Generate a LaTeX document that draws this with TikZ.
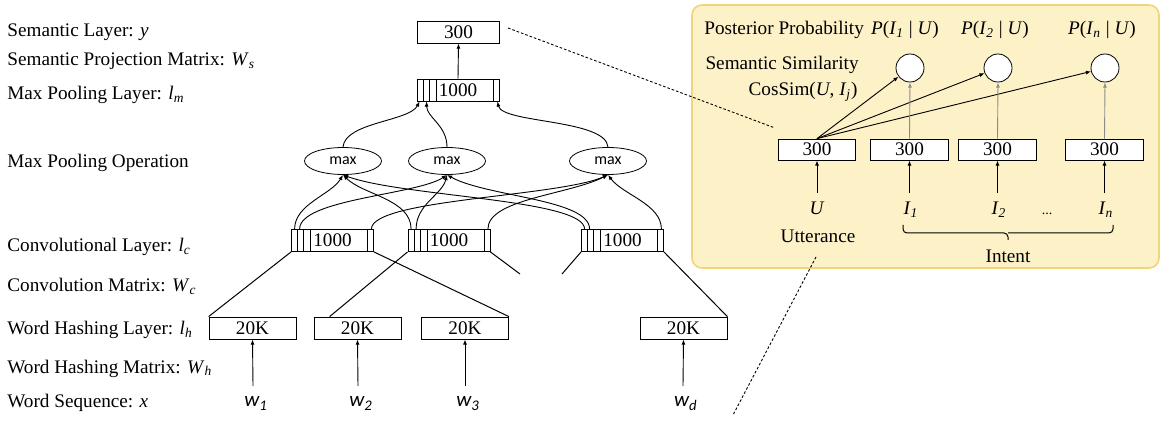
\documentclass[tikz,border=0pt]{standalone}
\usepackage{fontspec}
\setmainfont{Liberation Serif}
\newfontfamily\calfont{Carlito}
\usetikzlibrary{arrows.meta,shapes.geometric}
\definecolor{panelfill}{HTML}{FDF1C8}
\definecolor{paneldraw}{HTML}{F2D47C}
\newcommand\fs{\fontsize{9.6}{11}\selectfont}
\newcommand\vi[2]{\textit{#1}\textsubscript{\textit{#2}}}
\begin{document}
\begin{tikzpicture}[x=0.5pt,y=-0.5pt,
  lbl/.style={anchor=base west, inner sep=0pt, font=\fs},
  txt/.style={anchor=base, inner sep=0pt, font=\fs},
  box/.style={draw, fill=white, inner sep=0pt, minimum width=41pt, minimum height=11pt, font=\fs},
  hbox/.style={box, minimum width=43.5pt},
  pbox/.style={box, minimum width=38.75pt, minimum height=10.5pt},
  stripebox/.style={box, path picture={
      \foreach \d in {3pt,6pt,9.5pt}
        \draw ([xshift=\d]path picture bounding box.south west) -- ([xshift=\d]path picture bounding box.north west);
      \draw ([xshift=-3pt]path picture bounding box.south east) -- ([xshift=-3pt]path picture bounding box.north east);}},
  maxop/.style={draw, ellipse, inner sep=0pt, minimum width=38.5pt, minimum height=13.5pt, font=\calfont\fontsize{8}{9}\selectfont},
  circ/.style={draw, circle, fill=white, inner sep=0pt, minimum size=14pt},
  wl/.style={anchor=base, inner sep=0pt, font=\calfont\itshape\fontsize{10.5}{12}\selectfont},
  arr/.style={-{Latex[length=2.6pt,width=2pt]}, line width=0.45pt},
  con/.style={line width=0.5pt},
  gar/.style={arr, draw=black!45},
  dsh/.style={dash pattern=on 1.3pt off 1pt, line width=0.45pt},
  panel/.style={draw=paneldraw, fill=panelfill, line width=0.8pt, rounded corners=5pt, minimum width=233.5pt, minimum height=131.5pt, inner sep=0pt}
]
\useasboundingbox (0,0) rectangle (1168,422);

% ---- left labels
\node[lbl] (l1) at (7,37) {Semantic Layer: \textit{y}};
\node[lbl] (l2) at (7,66) {Semantic Projection Matrix: \vi{W}{s}};
\node[lbl] (l3) at (7,100) {Max Pooling Layer: \vi{l}{m}};
\node[lbl] (l4) at (7,168) {Max Pooling Operation};
\node[lbl] (l5) at (7,252) {Convolutional Layer: \vi{l}{c}};
\node[lbl] (l6) at (7,292) {Convolution Matrix: \vi{W}{c}};
\node[lbl] (l7) at (7,335) {Word Hashing Layer: \vi{l}{h}};
\node[lbl] (l8) at (7,373) {Word Hashing Matrix: \vi{W}{h}};
\node[lbl] (l9) at (7,408) {Word Sequence: \textit{x}};

% ---- right panel background
\node[panel] (panel) at (925.5,136.5) {};

% ---- left network
\node[box] (sem) at (458.5,32) {300};
\node[stripebox] (mp) at (458,90) {1000};
\node[maxop] (e1) at (343,161) {max};
\node[maxop] (e2) at (447,161) {max};
\node[maxop] (e3) at (608,161) {max};
\node[stripebox] (c1) at (332.5,240.5) {1000};
\node[stripebox] (c2) at (449,240.5) {1000};
\node[stripebox] (c3) at (622.5,240.5) {1000};
\node[hbox] (h1) at (252.5,328) {20K};
\node[hbox] (h2) at (357.5,328) {20K};
\node[hbox] (h3) at (465,328) {20K};
\node[hbox] (h4) at (683.5,328) {20K};
\node[wl] (w1) at (256,407) {w\textsubscript{1}};
\node[wl] (w2) at (361,407) {w\textsubscript{2}};
\node[wl] (w3) at (468,407) {w\textsubscript{3}};
\node[wl] (wd) at (686,407) {w\textsubscript{d}};
\coordinate (s1) at (253,386);
\coordinate (s2) at (358,386);
\coordinate (s3) at (465,386);
\coordinate (sd) at (683,386);

\draw[arr] (mp.north) -- (sem.south);

% max -> max pooling layer
\draw[arr] (e1.north) .. controls +(2,-25) and +(-10,20) .. ([xshift=1.5pt]mp.south west);
\draw[arr] (e2.north) .. controls +(0,-22) and +(0,16) .. ([xshift=5pt]mp.south west);
\draw[arr] (e3.north) .. controls +(-2,-28) and +(5,22) .. ([xshift=-1pt]mp.south east);

% conv -> max
\draw[arr] ([xshift=1.75pt]c1.north west) .. controls +(0,-25) and +(-12,20) .. (e1.south);
\draw[arr] ([xshift=4.25pt]c1.north west) .. controls +(0,-30) and +(-30,20) .. (e2.south);
\draw[arr] ([xshift=-1.25pt]c1.north east) .. controls +(0,-30) and +(-50,22) .. (e3.south);
\draw[arr] ([xshift=1.75pt]c2.north west) .. controls +(0,-30) and +(20,20) .. (e1.south);
\draw[arr] ([xshift=4.25pt]c2.north west) .. controls +(0,-25) and +(-5,20) .. (e2.south);
\draw[arr] ([xshift=-1.25pt]c2.north east) .. controls +(0,-30) and +(-40,20) .. (e3.south);
\draw[arr] ([xshift=1.75pt]c3.north west) .. controls +(0,-30) and +(60,22) .. (e1.south);
\draw[arr] ([xshift=4.25pt]c3.north west) .. controls +(0,-30) and +(40,22) .. (e2.south);
\draw[arr] ([xshift=-1.25pt]c3.north east) .. controls +(0,-25) and +(15,20) .. (e3.south);

% conv -> word hashing
\coordinate (g1) at (520,274);
\coordinate (g2) at (562,274);
\draw[con] (c1.south west) -- (h1.north west);
\draw[con] (c1.south east) -- (h3.north east);
\draw[con] (c2.south west) -- ([xshift=8pt]h2.north west);
\draw[con] (c2.south east) -- (g1);
\draw[con] (c3.south west) -- (g2);
\draw[con] (c3.south east) -- (h4.north east);

% words -> hashing
\draw[arr] (s1) -- (h1.south);
\draw[arr] (s2) -- (h2.south);
\draw[arr] (s3) -- (h3.south);
\draw[arr] (sd) -- (h4.south);

% ---- right panel content
\node[lbl] (pp) at (704,35) {Posterior Probability};
\node[txt] (p1) at (905,35) {\textit{P}(\vi{I}{1} | \textit{U})};
\node[txt] (p2) at (995,35) {\textit{P}(\vi{I}{2} | \textit{U})};
\node[txt] (pn) at (1102,35) {\textit{P}(\vi{I}{n} | \textit{U})};
\node[anchor=base east, inner sep=0pt, font=\fs] (ss) at (859,70) {Semantic Similarity};
\node[anchor=base east, inner sep=0pt, font=\fs] (cs) at (858,96) {CosSim(\textit{U}, \vi{I}{j})};

\node[circ] (o1) at (910,68) {};
\node[circ] (o2) at (998,68) {};
\node[circ] (on) at (1105,68) {};

\node[pbox] (bu) at (817,149.5) {300};
\node[pbox] (b1) at (909.5,149.5) {300};
\node[pbox] (b2) at (997.5,149.5) {300};
\node[pbox] (bn) at (1104.5,149.5) {300};

\node[txt] (U) at (817,215) {\textit{U}};
\node[txt] (I1) at (911,215) {\vi{I}{1}};
\node[txt] (I2) at (999,215) {\vi{I}{2}};
\node[txt] (dots) at (1047,215) {\fontsize{7}{8}\selectfont ...};
\node[txt] (In) at (1106,215) {\vi{I}{n}};
\node[txt] (utt) at (818,243) {Utterance};
\node[txt] (int) at (1008,263) {Intent};
\coordinate (tu) at (817,193);
\coordinate (t1) at (909.5,193);
\coordinate (t2) at (997.5,193);
\coordinate (tn) at (1104.5,193);

\draw[arr] (bu.north) -- (o1);
\draw[arr] (bu.north) -- (o2);
\draw[arr] (bu.north) -- (on);
\draw[gar] (b1.north) -- (o1.south);
\draw[gar] (b2.north) -- (o2.south);
\draw[gar] (bn.north) -- (on.south);

\draw[arr] (tu) -- (bu.south);
\draw[arr] (t1) -- (b1.south);
\draw[arr] (t2) -- (b2.south);
\draw[arr] (tn) -- (bn.south);

% brace
\draw[con, rounded corners=2pt] (903,225) |- (1008,233) -- (1008,240);
\draw[con, rounded corners=2pt] (1113,225) |- (1008,233);

% dashed zoom lines
\coordinate (d1) at (508,28);
\coordinate (d2) at (775,128);
\coordinate (d3) at (816,257);
\coordinate (d4) at (733,415);
\draw[dsh] (d1) -- (d2);
\draw[dsh] (d3) -- (d4);
\end{tikzpicture}
\end{document}
